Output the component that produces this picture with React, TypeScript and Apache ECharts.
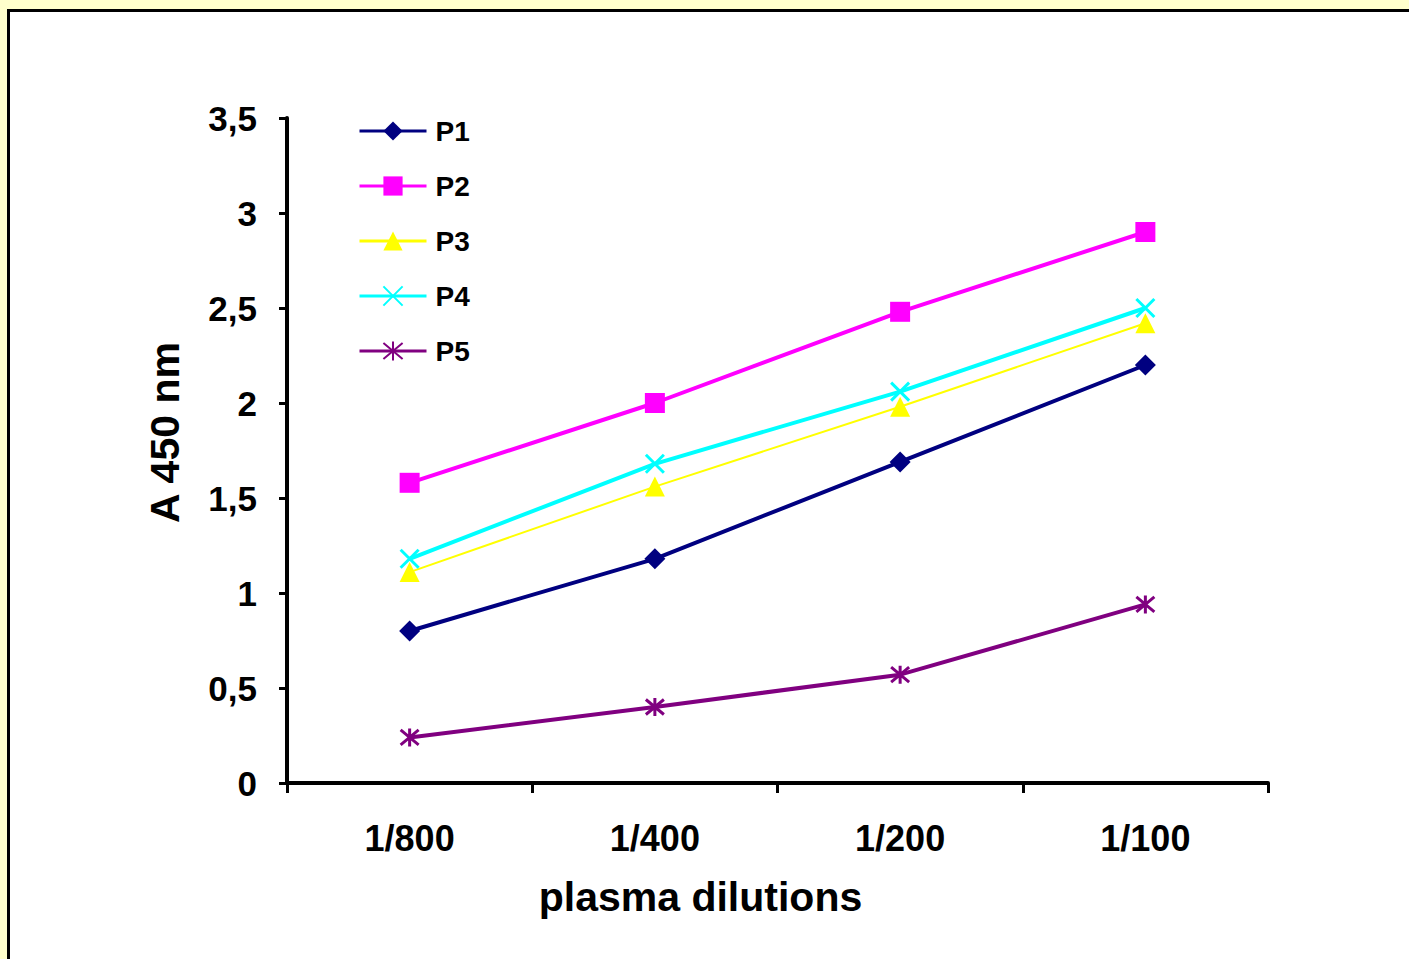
import React, { useEffect, useRef } from "react";
import * as echarts from "echarts";

const categories = ["1/800", "1/400", "1/200", "1/100"];
const p1 = [0.8, 1.18, 1.69, 2.2];
const p2 = [1.58, 2.0, 2.48, 2.9];
const p3 = [1.11, 1.56, 1.98, 2.42];
const p4 = [1.18, 1.68, 2.06, 2.5];
const p5 = [0.24, 0.4, 0.57, 0.94];
const seriesNames = ["P1", "P2", "P3", "P4", "P5"];

const FONT = "Arial, 'Liberation Sans', sans-serif";

export default function App() {
  const ref = useRef<HTMLDivElement>(null);
  useEffect(() => {
    document.body.style.margin = "0";
    if (!ref.current) return;
    const chart = echarts.init(ref.current, undefined, { renderer: "svg" });
    const xPath = "path://M0,0L10,10M10,0L0,10";
    const starPath = "path://M0,0L10,10M10,0L0,10M5,-1L5,11";
    const mk = (name: string, data: number[], color: string, width: number, symbol: string, size: number, stroke: boolean) => ({
      name,
      type: "line",
      data,
      symbol,
      symbolSize: size,
      showSymbol: true,
      lineStyle: { color, width },
      itemStyle: stroke
        ? { color: "rgba(0,0,0,0)", borderColor: color, borderWidth: 3 }
        : { color, borderWidth: 0 },
      emphasis: { disabled: true },
    });
    chart.setOption({
      animation: false,
      backgroundColor: "transparent",
      textStyle: { fontFamily: FONT },
      grid: { left: 287, right: 141, top: 118, bottom: 176, containLabel: false },
      legend: {
        orient: "vertical",
        left: 353,
        top: 112,
        itemWidth: 67,
        itemHeight: 24,
        itemGap: 27,
        lineStyle: { width: 3 },
        textStyle: { fontFamily: FONT, fontSize: 28, fontWeight: "bold", color: "#000", padding: [0, 0, 0, 4] },
        data: seriesNames,
      },
      xAxis: {
        type: "category",
        data: categories,
        boundaryGap: true,
        name: "plasma dilutions",
        nameLocation: "middle",
        nameGap: 93,
        nameTextStyle: { fontFamily: FONT, fontSize: 41, fontWeight: "bold", color: "#000", padding: [0, 154, 0, 0] },
        axisLine: { lineStyle: { color: "#000", width: 4 } },
        axisTick: { show: true, length: 10, lineStyle: { color: "#000", width: 3 } },
        axisLabel: { margin: 37, fontFamily: FONT, fontSize: 36, fontWeight: "bold", color: "#000" },
        splitLine: { show: false },
      },
      yAxis: {
        type: "value",
        min: 0,
        max: 3.5,
        interval: 0.5,
        name: "A 450 nm",
        nameLocation: "middle",
        nameRotate: 90,
        nameGap: 102,
        nameTextStyle: { fontFamily: FONT, fontSize: 41, fontWeight: "bold", color: "#000", padding: [0, 0, 0, 36] },
        axisLine: { show: true, lineStyle: { color: "#000", width: 4 } },
        axisTick: { show: true, length: 8, lineStyle: { color: "#000", width: 3 } },
        axisLabel: {
          margin: 30,
          fontFamily: FONT,
          fontSize: 35,
          fontWeight: "bold",
          color: "#000",
          formatter: (v: number) => String(v).replace(".", ","),
        },
        splitLine: { show: false },
      },
      series: [
        mk("P1", p1, "#000080", 4, "diamond", 21, false),
        mk("P2", p2, "#FF00FF", 4, "rect", 20, false),
        mk("P3", p3, "#FFFF00", 2, "triangle", 20, false),
        mk("P4", p4, "#00FFFF", 4, xPath, 18, true),
        mk("P5", p5, "#800080", 4, starPath, 18, true),
      ],
    });
    return () => chart.dispose();
  }, []);
  return (
    <div style={{ position: "relative", width: 1409, height: 959, background: "#FFFFCC", overflow: "hidden" }}>
      <div
        style={{
          position: "absolute",
          left: 7,
          top: 9,
          width: 1500,
          height: 1100,
          background: "#fff",
          borderTop: "3px solid #000",
          borderLeft: "3px solid #000",
        }}
      />
      <div ref={ref} style={{ position: "absolute", left: 0, top: 0, width: 1409, height: 959 }} />
    </div>
  );
}
